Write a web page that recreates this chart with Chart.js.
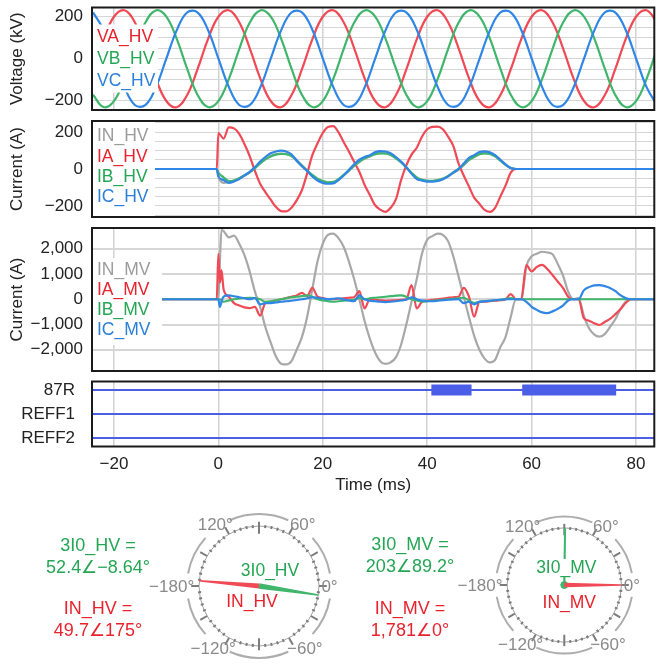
<!DOCTYPE html>
<html>
<head>
<meta charset="utf-8">
<script src="https://cdn.jsdelivr.net/npm/chart.js@4.4.1/dist/chart.umd.min.js"></script>
<style>
  html, body { margin: 0; padding: 0; background: #fff; overflow: hidden; }
  #fig { position: relative; width: 660px; height: 664px; font-family: 'Liberation Sans', Arial, sans-serif; }
  #fig canvas { position: absolute; }
  .val { position: absolute; width: 170px; margin-left: -85px; text-align: center; font-size: 18px; line-height: 22px; }
</style>
</head>
<body>
<div id="fig">
  <canvas id="volt" width="660" height="142" style="left:0;top:-12px"></canvas>
  <canvas id="hv" width="660" height="136" style="left:0;top:101px"></canvas>
  <canvas id="mv" width="660" height="183" style="left:0;top:208px"></canvas>
  <canvas id="bits" width="660" height="138" style="left:0;top:362px"></canvas>
  <canvas id="phHV" width="210" height="180" style="left:139px;top:496px"></canvas>
  <canvas id="phMV" width="210" height="180" style="left:445px;top:495px"></canvas>
  <div class="val" id="hvA" style="left:98px;top:534px"></div>
  <div class="val" id="hvB" style="left:98px;top:597px"></div>
  <div class="val" id="mvA" style="left:410px;top:533px"></div>
  <div class="val" id="mvB" style="left:410px;top:597px"></div>
</div>
<script>
// ---- data ----
const timeTicks = [-20, 0, 20, 40, 60, 80];

const voltTime = [-24, -22, -20, -18, -16, -14, -12, -10, -8, -6,
  -4, -2, 0, 2, 4, 6, 8, 10, 12, 14,
  16, 18, 20, 22, 24, 26, 28, 30, 32, 34,
  36, 38, 40, 42, 44, 46, 48, 50, 52, 54,
  56, 58, 60, 62, 64, 66, 68, 70, 72, 74,
  76, 78, 80, 82, 84];
const vaHV = [-51, 92, 200, 231, 174, 51, -92, -200, -231, -174,
  -51, 92, 200, 231, 174, 51, -92, -200, -231, -174,
  -51, 92, 200, 231, 174, 51, -92, -200, -231, -174,
  -51, 92, 200, 231, 174, 51, -92, -200, -231, -174,
  -51, 92, 200, 231, 174, 51, -92, -200, -231, -174,
  -51, 92, 200, 231, 174];
const vbHV = [-171, -230, -202, -97, 46, 171, 230, 202, 97, -46,
  -171, -230, -202, -97, 46, 171, 230, 202, 97, -46,
  -171, -230, -202, -97, 46, 171, 230, 202, 97, -46,
  -171, -230, -202, -97, 46, 171, 230, 202, 97, -46,
  -171, -230, -202, -97, 46, 171, 230, 202, 97, -46,
  -171, -230, -202, -97, 46];
const vcHV = [221, 138, 2, -134, -220, -221, -138, -2, 134, 220,
  221, 138, 2, -134, -220, -221, -138, -2, 134, 220,
  221, 138, 2, -134, -220, -221, -138, -2, 134, 220,
  221, 138, 2, -134, -220, -221, -138, -2, 134, 220,
  221, 138, 2, -134, -220, -221, -138, -2, 134, 220,
  221, 138, 2, -134, -220];

const hvTime = [-24, -0.3,
  0, 1, 2, 3, 4, 5, 6, 7, 8, 9,
  10, 11, 12, 13, 14, 15, 16, 17, 18, 19,
  20, 21, 22, 23, 24, 25, 26, 27, 28, 29,
  30, 31, 32, 33, 34, 35, 36, 37, 38, 39,
  40, 41, 42, 43, 44, 45, 46, 47, 48, 49,
  50, 51, 52, 53, 54, 55, 56, 57,
  84];
const inHV = [0, 0,
  -40, -75, -70, -62, -50, -35, -18, 5, 30, 52,
  70, 80, 84, 82, 72, 50, 20, -10, -35, -55,
  -68, -74, -72, -58, -35, -10, 15, 38, 55, 68,
  80, 86, 85, 78, 60, 38, 10, -25, -50, -60,
  -65, -65, -62, -55, -40, -20, -5, 20, 48, 65,
  80, 86, 84, 72, 50, 25, 5, 0,
  0];
const iaHV = [0, 0,
  195, 165, 225, 220, 190, 135, 70, -10, -80, -125,
  -165, -205, -228, -230, -210, -170, -115, -25, 75, 139,
  195, 228, 232, 200, 146, 95, 40, -15, -85, -140,
  -195, -220, -232, -210, -165, -60, 20, 78, 115, 175,
  215, 228, 230, 215, 175, 125, 30, -35, -95, -155,
  -188, -222, -232, -210, -150, -90, -20, 0,
  0];
const ibHV = [0, 0,
  -20, -45, -65, -62, -50, -35, -18, 5, 30, 52,
  68, 78, 82, 80, 70, 45, 18, -8, -32, -52,
  -65, -72, -70, -55, -32, -8, 18, 40, 58, 70,
  80, 85, 84, 76, 58, 35, 8, -20, -45, -58,
  -63, -64, -60, -52, -38, -18, 0, 25, 50, 66,
  80, 85, 82, 68, 45, 22, 5, 0,
  0];
const icHV = [0, 0,
  -40, -60, -75, -68, -55, -35, -15, 10, 40, 65,
  85, 95, 100, 95, 80, 45, 15, -10, -40, -62,
  -75, -80, -78, -60, -35, -5, 25, 50, 65, 75,
  90, 97, 95, 85, 65, 40, 10, -25, -55, -62,
  -68, -68, -65, -55, -40, -20, 0, 30, 60, 75,
  92, 96, 90, 75, 50, 25, 5, 0,
  0];

const mvTime = [-24, -0.3, 0, 0.3, 0.6,
  1, 2, 3, 4, 5, 6, 7, 8, 9, 10,
  11, 12, 13, 14, 15, 16, 17, 18, 19, 20,
  21, 22, 23, 24, 25, 26, 27, 28, 29, 30,
  31, 32, 33, 34, 35, 36, 37, 38, 39, 40,
  41, 42, 43, 44, 45, 46, 47, 48, 49, 50,
  51, 52, 53, 54, 55, 56, 57, 58, 59, 60,
  61, 62, 63, 64, 65, 66, 67, 68, 69, 70,
  71, 72, 73, 74, 75, 76, 77, 78, 79, 80,
  84];
const inMV = [0, 0, 0, 1500, 2750,
  2700, 2450, 2520, 2200, 1750, 1100, 300, -300, -1100, -1700,
  -2250, -2550, -2580, -2450, -2000, -1500, -700, 400, 1500, 2200,
  2550, 2600, 2420, 2080, 1500, 800, 0, -850, -1550, -2100,
  -2450, -2560, -2500, -2300, -1800, -1000, -100, 800, 1800, 2350,
  2500, 2600, 2550, 2300, 1700, 900, 100, -700, -1450, -2000,
  -2350, -2500, -2400, -1900, -1500, -700, 0, 0, 1300, 1700,
  1800, 1880, 1850, 1780, 1400, 950, 300, 0, 50, -650,
  -1150, -1400, -1480, -1380, -1100, -800, -400, -100, 0, 0,
  0];
const iaMV = [0, 0, 1800, 650, 1150,
  400, 100, -150, -250, -320, -350, -300, -650, -150, -100,
  -50, 0, 50, 100, 150, 250, 120, 450, 100, 50,
  0, 0, 20, 40, 60, 80, 320, -360, 0, -20,
  -40, -60, -50, -40, -20, 0, 560, -360, -100, -50,
  -20, 0, 30, 60, 80, 100, 450, 100, -690, -100,
  -100, -80, -60, -40, 0, 200, 0, 0, 1350, 1100,
  1280, 1360, 1200, 960, 700, 450, 100, 0, 0, -750,
  -850, -950, -1020, -900, -780, -600, -400, -150, 0, 0,
  0];
const ibMV = [0, 0, 0, 0, -50,
  -100, -50, 0, 30, 50, 60, 50, 0, -100, -80,
  -40, 0, 40, 80, 100, 120, 150, 100, 0, -50,
  -80, -100, -80, -60, -40, -20, 50, 0, 40, 60,
  80, 100, 120, 140, 150, 100, 0, -50, -100, -80,
  -60, -40, -20, 0, 20, 40, 60, -50, -150, -100,
  -80, -60, -40, -20, 0, 50, 0, 0, 0, 0,
  0, 0, 0, 0, 0, 0, 0, 0, 0, 0,
  0, 0, 0, 0, 0, 0, 0, 0, 0, 0,
  0];
const icMV = [0, 0, 0, -300, -100,
  100, 150, 120, 80, 40, 0, 50, -200, -150, -150,
  -130, -100, -80, -60, -30, 0, 40, 80, 60, 30,
  0, 20, 40, 0, -50, -80, 150, 0, -60, -80,
  -100, -110, -100, -80, -50, -20, 80, 0, -50, -80,
  -80, -60, -40, -20, -10, 0, -150, -100, -200, -100,
  -80, -60, -40, -20, 0, 0, 0, 0, -100, -300,
  -420, -520, -550, -480, -380, -250, -50, 0, 0, 350,
  480, 550, 560, 520, 450, 330, 160, 50, 0, 0,
  0];

const voltGrid = [-200, -150, -100, -50, 0, 50, 100, 150, 200];
const voltLabels = [-200, 0, 200];
const hvGrid = [-250, -200, -150, -100, -50, 0, 50, 100, 150, 200, 250];
const hvLabels = [-200, 0, 200];
const mvGrid = [-2000, -1000, 0, 1000, 2000];

const bitNames = ['87R', 'REFF1', 'REFF2'];
const bitLevels = [2, 1, 0];
const r87Pickup = [[40.8, 48.5], [58.2, 76.2]];

const hvPhasorNames = ['3I0_HV', 'IN_HV'];
const hvPhasorMag = [52.4, 49.7];
const hvPhasorAng = [-8.64, 175];
const mvPhasorNames = ['3I0_MV', 'IN_MV'];
const mvPhasorMag = [203, 1781];
const mvPhasorAng = [89.2, 0];
const dialAngles = [0, 60, 120, 180, -120, -60];

// ---- look ----
const RED = '#ef4a55', GREEN = '#40b56c', BLUE = '#2f86e6', GRAY = '#a8a8a8', BIT = '#4a5ee8';
const TXT_RED = '#e8232e', TXT_GREEN = '#25a655', TXT_BLUE = '#2a7fd8', TXT_GRAY = '#9c9c9c';
const FONT = "'Liberation Sans', Arial, sans-serif";
const xMin = -24.2, xMax = 83.5;

Chart.defaults.font.family = FONT;
Chart.defaults.font.size = 17;
Chart.defaults.color = '#222';

const fmt = (v) => (v < 0 ? '\u2212' : '') + Math.abs(v).toLocaleString('en-US', { maximumFractionDigits: 2 });
const pts = (xs, ys) => xs.map((x, i) => ({ x, y: ys[i] }));

const line = (data, color, order, extra = {}) => ({
    data, borderColor: color, borderWidth: 2.2, pointRadius: 0, order,
    cubicInterpolationMode: 'monotone', ...extra,
});

const framePlugin = {
    id: 'frame',
    afterDraw(chart) {
        const { ctx, chartArea: a } = chart;
        ctx.save();
        ctx.strokeStyle = '#1b1b1b';
        ctx.lineWidth = 2;
        ctx.strokeRect(a.left, a.top, a.right - a.left, a.bottom - a.top);
        ctx.restore();
    },
};

// white box with the in-plot channel names
const makeTags = (items, mask) => ({
    id: 'tags',
    afterDatasetsDraw(chart) {
        const { ctx, chartArea: a } = chart;
        ctx.save();
        ctx.fillStyle = '#fff';
        ctx.fillRect(a.left + mask[0], a.top + mask[1], mask[2], mask[3]);
        ctx.font = `17.5px ${FONT}`;
        ctx.textBaseline = 'middle';
        ctx.textAlign = 'left';
        items.forEach(([text, color, dy]) => {
            ctx.fillStyle = color;
            ctx.fillText(text, a.left + 5, a.top + dy);
        });
        ctx.restore();
    },
});

const xScale = (show) => ({
    type: 'linear', min: xMin, max: xMax,
    afterBuildTicks: (s) => { s.ticks = timeTicks.map((value) => ({ value })); },
    afterFit: (s) => { s.height = show ? 53.5 : 0; },
    ticks: { display: show, padding: 8, autoSkip: false, maxRotation: 0, callback: fmt },
    grid: { color: '#d2d2d2', lineWidth: 1.5, drawTicks: false },
    border: { display: false },
    title: { display: show, text: 'Time (ms)', padding: { top: 0, bottom: 4 } },
});

function wavePanel(id, datasets, yMin, yMax, grid, labels, title, tags, mask, gridWidth) {
    return new Chart(document.getElementById(id), {
        type: 'line',
        data: { datasets },
        options: {
            responsive: false,
            animation: false,
            layout: { padding: { top: id === 'volt' ? 19.5 : 20, bottom: 20, left: 0, right: 5.7 } },
            plugins: { legend: { display: false }, tooltip: { enabled: false } },
            scales: {
                x: xScale(false),
                y: {
                    min: yMin, max: yMax,
                    afterBuildTicks: (s) => { s.ticks = grid.map((value) => ({ value })); },
                    afterFit: (s) => { s.width = 92; },
                    ticks: { padding: 9, autoSkip: false, callback: (v) => (labels.includes(v) ? fmt(v) : '') },
                    grid: { color: '#d6d6d6', lineWidth: gridWidth, drawTicks: false },
                    border: { display: false },
                    title: { display: true, text: title, padding: { top: 7, bottom: 0 } },
                },
            },
        },
        plugins: [makeTags(tags, mask), framePlugin],
    });
}

/* ------------------------------------------------------------------ */
/* Waveform panels                                                     */
/* ------------------------------------------------------------------ */
wavePanel('volt', [
    line(pts(voltTime, vcHV), BLUE, 1, { cubicInterpolationMode: 'default', tension: 0.4 }),
    line(pts(voltTime, vbHV), GREEN, 2, { cubicInterpolationMode: 'default', tension: 0.4 }),
    line(pts(voltTime, vaHV), RED, 3, { cubicInterpolationMode: 'default', tension: 0.4 }),
], -244, 244, voltGrid, voltLabels, 'Voltage (kV)',
    [['VA_HV', TXT_RED, 29.5], ['VB_HV', TXT_GREEN, 51.5], ['VC_HV', TXT_BLUE, 73.5]],
    [1, 17, 65, 68], 1);

wavePanel('hv', [
    line(pts(hvTime, icHV), BLUE, 1),
    line(pts(hvTime, ibHV), GREEN, 2),
    line(pts(hvTime, iaHV), RED, 3),
    line(pts(hvTime, inHV), GRAY, 4),
], -260, 260, hvGrid, hvLabels, 'Current (A)',
    [['IN_HV', TXT_GRAY, 15], ['IA_HV', TXT_RED, 36], ['IB_HV', TXT_GREEN, 56], ['IC_HV', TXT_BLUE, 76]],
    [1, 1, 62, 94], 1);

wavePanel('mv', [
    line(pts(mvTime, icMV), BLUE, 1),
    line(pts(mvTime, ibMV), GREEN, 2),
    line(pts(mvTime, iaMV), RED, 3),
    line(pts(mvTime, inMV), GRAY, 4),
], -2840, 2820, mvGrid, mvGrid, 'Current (A)',
    [['IN_MV', TXT_GRAY, 42], ['IA_MV', TXT_RED, 62], ['IB_MV', TXT_GREEN, 82], ['IC_MV', TXT_BLUE, 102]],
    [1, 30, 69, 87], 2);

/* ------------------------------------------------------------------ */
/* Digital elements                                                    */
/* ------------------------------------------------------------------ */
new Chart(document.getElementById('bits'), {
    type: 'line',
    data: {
        datasets: [
            ...bitLevels.map((lvl) => ({
                data: [{ x: xMin, y: lvl }, { x: xMax, y: lvl }],
                borderColor: BIT, borderWidth: 2, pointRadius: 0,
            })),
            {
                data: r87Pickup.flatMap(([a, b]) => [{ x: a, y: bitLevels[0] }, { x: b, y: bitLevels[0] }, { x: b, y: null }]),
                borderColor: BIT, borderWidth: 11, pointRadius: 0, spanGaps: false, borderCapStyle: 'butt',
            },
        ],
    },
    options: {
        responsive: false,
        animation: false,
        layout: { padding: { top: 19.5, bottom: 0, left: 0, right: 5.7 } },
        plugins: { legend: { display: false }, tooltip: { enabled: false } },
        scales: {
            x: xScale(true),
            y: {
                min: -0.354, max: 2.354,
                afterBuildTicks: (s) => { s.ticks = bitLevels.map((value) => ({ value })); },
                afterFit: (s) => { s.width = 92; },
                ticks: { padding: 9, autoSkip: false, callback: (v) => bitNames[bitLevels.indexOf(v)] },
                grid: { display: false },
                border: { display: false },
            },
        },
    },
    plugins: [framePlugin],
});

/* ------------------------------------------------------------------ */
/* Phasor dials                                                        */
/* ------------------------------------------------------------------ */
const rad = (d) => (d * Math.PI) / 180;

const makeDial = (names, tagOffsets) => ({
    id: 'dial',
    beforeDatasetsDraw(chart) {
        const { ctx, scales: { x, y } } = chart;
        const cx = x.getPixelForValue(0), cy = y.getPixelForValue(0);
        const r = x.getPixelForValue(1) - cx;
        ctx.save();
        ctx.strokeStyle = '#a2a2a2';
        ctx.lineWidth = 1;
        ctx.beginPath();
        ctx.arc(cx, cy, r, 0, Math.PI * 2);
        ctx.stroke();

        ctx.strokeStyle = '#7c7c7c';
        for (let d = 0; d < 360; d += 6) {
            const major = d % 30 === 0;
            const vertical = d === 90 || d === 270;
            const r0 = r * (vertical ? 0.87 : major ? 1.0 : 0.97);
            const r1 = r * (vertical ? 1.07 : major ? 1.13 : 1.02);
            ctx.lineWidth = 2;
            ctx.beginPath();
            ctx.moveTo(cx + r0 * Math.cos(rad(d)), cy - r0 * Math.sin(rad(d)));
            ctx.lineTo(cx + r1 * Math.cos(rad(d)), cy - r1 * Math.sin(rad(d)));
            ctx.stroke();
        }

        ctx.strokeStyle = '#adadad';
        ctx.lineWidth = 2;
        [[10, 42], [66, 114], [138, 170], [190, 222], [246, 294], [318, 350]].forEach(([a0, a1]) => {
            ctx.beginPath();
            ctx.arc(cx, cy, r * 1.2, -rad(a1), -rad(a0));
            ctx.stroke();
        });

        ctx.fillStyle = '#8a8a8a';
        ctx.font = `17px ${FONT}`;
        ctx.textBaseline = 'middle';
        dialAngles.forEach((d) => {
            const text = (d === 180 ? '\u2212180' : fmt(d)) + '°';
            if (d === 0) {
                ctx.textAlign = 'left';
                ctx.fillText(text, cx + r * 1.04, cy + 1);
            } else if (d === 180) {
                ctx.textAlign = 'right';
                ctx.fillText(text, cx - r * 1.08, cy + 1);
            } else {
                const lower = d < 0;
                const a = rad(d + (Math.abs(d) === 60 ? -6 : 6) * Math.sign(d));
                const rr = r * (lower ? 1.3 : 1.24);
                ctx.textAlign = 'center';
                ctx.fillText(text, cx + rr * Math.cos(a), cy - rr * Math.sin(a));
            }
        });
        ctx.restore();
    },
    afterDatasetsDraw(chart) {
        const { ctx } = chart;
        ctx.save();
        chart.data.datasets.forEach((ds, i) => {
            const [p0, p1] = chart.getDatasetMeta(i).data;
            const dx = p1.x - p0.x, dy = p1.y - p0.y, len = Math.hypot(dx, dy);
            const nx = -dy / len, ny = dx / len;
            ctx.fillStyle = ds.borderColor;
            ctx.beginPath();
            ctx.moveTo(p0.x + nx * ds.baseHalf, p0.y + ny * ds.baseHalf);
            ctx.lineTo(p1.x + nx * ds.tipHalf, p1.y + ny * ds.tipHalf);
            ctx.lineTo(p1.x - nx * ds.tipHalf, p1.y - ny * ds.tipHalf);
            ctx.lineTo(p0.x - nx * ds.baseHalf, p0.y - ny * ds.baseHalf);
            ctx.closePath();
            ctx.fill();
        });
        const cx = chart.scales.x.getPixelForValue(0), cy = chart.scales.y.getPixelForValue(0);
        ctx.font = `17.5px ${FONT}`;
        ctx.textAlign = 'center';
        ctx.textBaseline = 'middle';
        names.forEach((n, i) => {
            const [ox, oy] = tagOffsets[i];
            const w = ctx.measureText(n).width;
            ctx.fillStyle = '#fff';
            ctx.fillRect(cx + ox - w / 2 - 1, cy + oy - 9, w + 2, 18);
            ctx.fillStyle = i === 0 ? TXT_GREEN : TXT_RED;
            ctx.fillText(n, cx + ox, cy + oy);
        });
        ctx.restore();
    },
});

function phasorDial(id, names, angles, widths, tagOffsets, centreDot) {
    const colors = [GREEN, RED];
    new Chart(document.getElementById(id), {
        type: 'scatter',
        data: {
            datasets: names.map((n, i) => ({
                label: n,
                data: [{ x: 0, y: 0 }, { x: Math.cos(rad(angles[i])), y: Math.sin(rad(angles[i])) }],
                borderColor: colors[i],
                backgroundColor: colors[i],
                pointRadius: i === 0 && centreDot ? [3.5, 0] : 0,
                showLine: false,
                baseHalf: widths[i][0],
                tipHalf: widths[i][1],
            })),
        },
        options: {
            responsive: false,
            animation: false,
            layout: { padding: 0 },
            plugins: { legend: { display: false }, tooltip: { enabled: false } },
            scales: {
                x: { type: 'linear', display: false, min: -2, max: 1.5 },
                y: { type: 'linear', display: false, min: -1.5, max: 1.5 },
            },
        },
        plugins: [makeDial(names, tagOffsets)],
    });
}

phasorDial('phHV', hvPhasorNames, hvPhasorAng, [[2.8, 0.7], [2.5, 0.7]], [[11, -15], [-7, 16]], false);
phasorDial('phMV', mvPhasorNames, mvPhasorAng, [[1.1, 1.0], [2.3, 0.8]], [[2, -17], [5, 18]], true);

// phasor readouts
const readout = (name, mag, ang, color) =>
    `<span style="color:${color}">${name} =<br>${fmt(mag)}\u2220${fmt(ang)}°</span>`;
document.getElementById('hvA').innerHTML = readout(hvPhasorNames[0], hvPhasorMag[0], hvPhasorAng[0], TXT_GREEN);
document.getElementById('hvB').innerHTML = readout(hvPhasorNames[1], hvPhasorMag[1], hvPhasorAng[1], TXT_RED);
document.getElementById('mvA').innerHTML = readout(mvPhasorNames[0], mvPhasorMag[0], mvPhasorAng[0], TXT_GREEN);
document.getElementById('mvB').innerHTML = readout(mvPhasorNames[1], mvPhasorMag[1], mvPhasorAng[1], TXT_RED);
</script>
</body>
</html>
